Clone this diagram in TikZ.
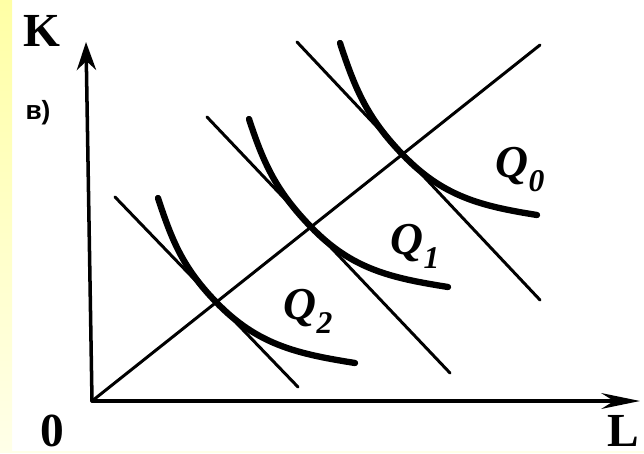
\documentclass[tikz,border=0pt]{standalone}
\usepackage{fontspec}
\setmainfont{Liberation Serif}
\newfontfamily\cyrsans{Liberation Sans}
\usetikzlibrary{arrows.meta}
\definecolor{cyeltop}{RGB}{255,255,165}
\definecolor{cyelbot}{RGB}{255,255,232}
\tikzset{
  axis/.style={line width=2pt, line cap=round},
  tline/.style={line width=1.7pt, line cap=round},
  iso/.style={line width=3.6pt, line cap=round},
  lbl/.style={font=\fontsize{27}{30}\selectfont\bfseries, inner sep=0pt},
  qlbl/.style={inner sep=0pt},
}
\newcommand{\qname}[1]{{\fontsize{26}{28}\selectfont\bfseries\itshape Q}%
  \raisebox{-8pt}{\fontsize{18}{20}\selectfont\bfseries\itshape #1}}

\begin{document}
\begin{tikzpicture}[x=0.02cm, y=0.02cm]
  \useasboundingbox (0,0) rectangle (644,453);
  % ── Background strip ───────────────────────────────────────────────────────
  \shade[top color=cyeltop, bottom color=cyelbot] (0,2) rectangle (12,453);
  \fill[cyelbot] (0,0) rectangle (644,2);

  % ── Axes ───────────────────────────────────────────────────────────────────
  \coordinate (O)    at (92,52);
  \coordinate (ktip) at (86,411);
  \coordinate (ltip) at (640,52);
  \draw[axis, -{Stealth[length=16pt, width=11pt]}] (O) -- (ktip);
  \draw[axis, -{Stealth[length=22pt, width=9pt]}]  (O) -- (ltip);

  \node[lbl] at (42,422) (klab) {K};
  \node[lbl] at (52,22)  (olab) {0};
  \node[lbl] at (623,22) (llab) {L};
  \node[inner sep=0pt, font=\fontsize{15}{16}\selectfont\cyrsans\bfseries]
      at (38,340) (part) {в)};

  % ── Expansion path ─────────────────────────────────────────────────────────
  \coordinate (rayend) at (540,408);
  \draw[tline] (O) -- (rayend);

  % ── Isocost lines ──────────────────────────────────────────────────────────
  \coordinate (c0a) at (297,411);  \coordinate (c0b) at (540,153);
  \coordinate (c1a) at (207,336);  \coordinate (c1b) at (450,80);
  \coordinate (c2a) at (115,256);  \coordinate (c2b) at (298,66);
  \draw[tline] (c0a) -- (c0b);
  \draw[tline] (c1a) -- (c1b);
  \draw[tline] (c2a) -- (c2b);

  % ── Isoquants ──────────────────────────────────────────────────────────────
  \coordinate (t0) at (403,298);
  \coordinate (t1) at (311,226);
  \coordinate (t2) at (216,151);
  \draw[iso] (340,410) to[out=-72, in=134] (t0) to[out=-46, in=171] (537,238);
  \draw[iso] (249,334) to[out=-72, in=134] (t1) to[out=-46, in=171] (448,166);
  \draw[iso] (158,255) to[out=-72, in=134] (t2) to[out=-46, in=171] (355,90);

  \node[qlbl] at (520,283) (q0) {\qname{0}};
  \node[qlbl] at (415,207) (q1) {\qname{1}};
  \node[qlbl] at (308,142) (q2) {\qname{2}};
\end{tikzpicture}
\end{document}
